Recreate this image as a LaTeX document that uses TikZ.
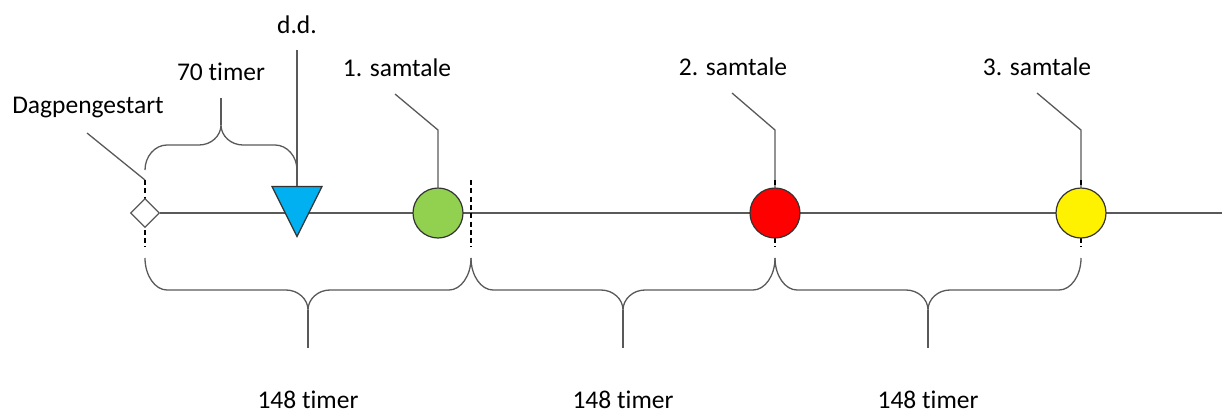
\documentclass[tikz,border=0pt]{standalone}
\usepackage{fontspec}
\setmainfont{Carlito}[Ligatures=NoCommon]
\usetikzlibrary{positioning, shapes.geometric, backgrounds, calc}

\definecolor{linegray}{HTML}{595959}
\definecolor{ddblue}{HTML}{00B0F0}
\definecolor{talkgreen}{HTML}{92D050}

% brace over an interval: x1, x2, tip y, flat, cusp and stem offsets
\newcommand{\timebrace}[6]{%
	\pgfmathsetmacro{\bmid}{(#1+#2)/2}%
	\pgfmathsetmacro{\bflat}{#3+(#4)}%
	\pgfmathsetmacro{\bcusp}{#3+(#5)}%
	\pgfmathsetmacro{\bstem}{#3+(#6)}%
	\pgfmathsetmacro{\bendc}{#3+0.55*(#4)}%
	\pgfmathsetmacro{\bmidc}{\bflat+0.45*((#5)-(#4))}%
	\draw[bracestyle] (#1,#3) .. controls (#1,\bendc) and ({#1+10},\bflat) .. ({#1+22},\bflat)
		-- ({\bmid-22},\bflat) .. controls ({\bmid-10},\bflat) and (\bmid,\bmidc) .. (\bmid,\bcusp)
		.. controls (\bmid,\bmidc) and ({\bmid+10},\bflat) .. ({\bmid+22},\bflat)
		-- ({#2-22},\bflat) .. controls ({#2-10},\bflat) and (#2,\bendc) .. (#2,#3);
	\draw[bracestyle] (\bmid,\bcusp) -- (\bmid,\bstem);
}

\tikzset{
	lbl/.style={anchor=base, inner sep=0pt, font=\fontsize{25.5}{30}\selectfont},
	timeline/.style={draw=linegray, line width=1.5pt},
	leader/.style={draw=linegray, line width=1.3pt},
	tick/.style={draw=black, line width=2pt, dash pattern=on 5pt off 3.3pt},
	bracestyle/.style={draw=linegray, line width=1.3pt},
	startmark/.style={diamond, draw=linegray, fill=white, line width=1.2pt, inner sep=0pt, minimum width=29pt, minimum height=29pt},
	ddmark/.style={isosceles triangle, isosceles triangle stretches, shape border rotate=270, minimum width=50pt, minimum height=50pt, inner sep=0pt, draw=black!80, line width=1.2pt, fill=ddblue},
	talk/.style={circle, minimum size=50pt, inner sep=0pt, draw=black!80, line width=1.2pt},
}

\begin{document}
\begin{tikzpicture}[x=1pt, y=-1pt]
	\useasboundingbox (0,0) rectangle (1222,416);

	% markers on the line
	\node[startmark] (start) at (145,213) {};
	\node[ddmark, anchor=apex] (dd) at (297,238) {};
	\node[talk, fill=talkgreen] (s1) at (438,213) {};
	\node[talk, fill=red] (s2) at (775,213) {};
	\node[talk, fill=yellow] (s3) at (1081,213) {};
	\coordinate (cut) at (471,213);
	\coordinate (lineend) at (1222,213);

	% labels
	\node[lbl] (startlbl) at (88,113) {Dagpengestart};
	\node[lbl] (ddlbl) at (297,33) {d.d.};
	\node[lbl] (hourslbl) at (221,80) {70 timer};
	\node[lbl] (s1lbl) at (397,76) {1. samtale};
	\node[lbl] (s2lbl) at (733,75) {2. samtale};
	\node[lbl] (s3lbl) at (1037,75) {3. samtale};
	\node[lbl] (p1lbl) at (308,408) {148 timer};
	\node[lbl] (p2lbl) at (623,408) {148 timer};
	\node[lbl] (p3lbl) at (928,408) {148 timer};

	\coordinate (starttop) at (145,180);
	\coordinate (s1bend) at (438,130);
	\coordinate (s2bend) at (775,130);
	\coordinate (s3bend) at (1081,130);

	\begin{scope}[on background layer]
		\draw[timeline] (start.east) -- (lineend);
		\draw[leader] ($(startlbl.base)+(-1,20)$) -- (starttop);
		\draw[leader] ($(s1lbl.base)+(-2,18)$) -- (s1bend) -- (s1);
		\draw[leader] ($(s2lbl.base)+(-1,18)$) -- (s2bend) -- (s2);
		\draw[leader] ($(s3lbl.base)+(0,18)$) -- (s3bend) -- (s3);
		\foreach \p in {start, cut, s2, s3}
			\draw[tick] ($(\p)+(0,-33)$) -- ($(\p)+(0,34)$);
	\end{scope}
	\draw[leader] ($(ddlbl.base)+(0,17)$) -- (dd);

	% braces
	\timebrace{145}{297}{170}{-25}{-45}{-72}
	\timebrace{145}{471}{258}{32}{52}{90}
	\timebrace{471}{775}{258}{32}{52}{90}
	\timebrace{775}{1081}{258}{32}{52}{90}

\end{tikzpicture}
\end{document}
